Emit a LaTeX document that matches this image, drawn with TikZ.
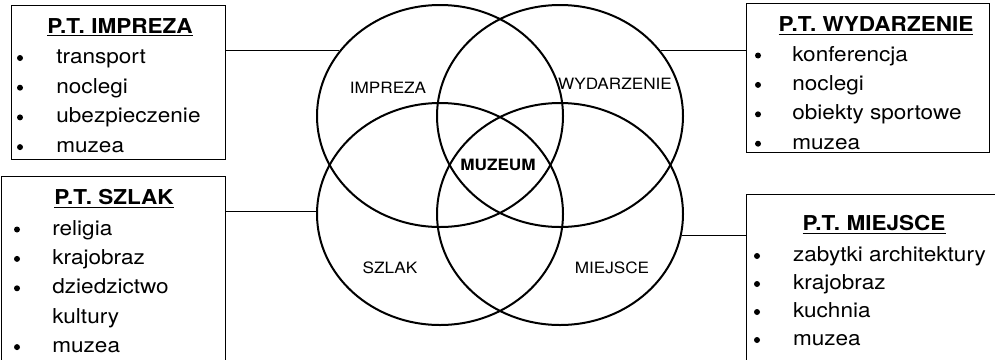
\documentclass[tikz,border=0pt]{standalone}
\usepackage{fontspec}
\setmainfont{TeX Gyre Heros}[FakeStretch=1.1]
\usetikzlibrary{shapes.geometric}

\newcommand{\boxfont}{\fontsize{10.25}{12}\selectfont}
\newcommand{\ringfont}{\fontsize{7.8}{9}\selectfont}

\begin{document}
\begin{tikzpicture}[x=0.5pt,y=-0.5pt,
    ring/.style={draw,ellipse,line width=1pt,minimum width=123pt,minimum height=111pt,inner sep=0pt},
    frame/.style={draw,rectangle,line width=0.5pt,inner sep=0pt},
    title/.style={anchor=base,font=\boxfont\bfseries,inner sep=0pt},
    item/.style={anchor=base west,font=\boxfont,inner sep=0pt},
    dot/.style={circle,fill=black,inner sep=0pt,minimum size=3pt},
    tag/.style={font=\ringfont,inner sep=0pt},
    link/.style={line width=0.5pt}]
  \useasboundingbox (0,0) rectangle (995,359);
  \clip (0,0) rectangle (995,359);
  % the four ellipses
  \node[ring] (imp) at (440,116) {};
  \node[ring] (wyd) at (560,116) {};
  \node[ring] (szl) at (440,214) {};
  \node[ring] (mie) at (560,214) {};
  \node[tag] (tImp) at (388,88)  {IMPREZA};
  \node[tag] (tWyd) at (615,84)  {WYDARZENIE};
  \node[tag] (tSzl) at (390,268) {SZLAK};
  \node[tag] (tMie) at (612,268) {MIEJSCE};
  \node[tag,font=\ringfont\bfseries] (tMuz) at (498,165) {MUZEUM};
  % the boxes (the lower ones run off the page)
  \node[frame,minimum width=107pt,minimum height=77pt]   (boxImp) at (118,82)   {};
  \node[frame,minimum width=121.25pt,minimum height=74.4pt] (boxWyd) at (868,78.3) {};
  \node[frame,minimum width=112pt,minimum height=97pt]   (boxSzl) at (113,273)  {};
  \node[frame,minimum width=127.2pt,minimum height=88pt] (boxMie) at (873.8,282) {};
  \node[title] (hImp) at (120,33)  {\underline{P.T. IMPREZA}};
  \node[title] (hWyd) at (876,31.7) {\underline{P.T. WYDARZENIE}};
  \node[title] (hSzl) at (114,204) {\underline{P.T. SZLAK}};
  \node[title] (hMie) at (874,230) {\underline{P.T. MIEJSCE}};
  % lists
  \foreach \t [count=\i] in {transport,noclegi,ubezpieczenie,muzea} {
    \node[item] (iImp\i) at (56,{63.5+29.7*(\i-1)}) {\t};
    \node[dot]  (dImp\i) at (20,{58+29.7*(\i-1)}) {};
  }
  \foreach \t [count=\i] in {konferencja,noclegi,obiekty sportowe,muzea} {
    \node[item] (iWyd\i) at (792,{61+29.4*(\i-1)}) {\t};
    \node[dot]  (dWyd\i) at (758,{55.5+29.4*(\i-1)}) {};
  }
  \foreach \t [count=\i] in {religia,krajobraz,dziedzictwo,kultury,muzea} {
    \node[item] (iSzl\i) at (52,{235+29.4*(\i-1)}) {\t};
  }
  \foreach \i in {1,2,3,5} {
    \node[dot] (dSzl\i) at (17,{229.5+29.4*(\i-1)}) {};
  }
  \foreach \t [count=\i] in {zabytki architektury,krajobraz,kuchnia,muzea} {
    \node[item] (iMie\i) at (792.7,{261.5+28*(\i-1)}) {\t};
    \node[dot]  (dMie\i) at (757,{256+28*(\i-1)}) {};
  }
  % connectors
  \draw[link] (boxImp.east |- imp.147) -- (imp.147);
  \draw[link] (wyd.33) -- (boxWyd.west |- wyd.33);
  \draw[link] (boxSzl.east |- szl.179) -- (szl.179);
  \draw[link] (mie.-10) -- (boxMie.west |- mie.-10);
\end{tikzpicture}
\end{document}
